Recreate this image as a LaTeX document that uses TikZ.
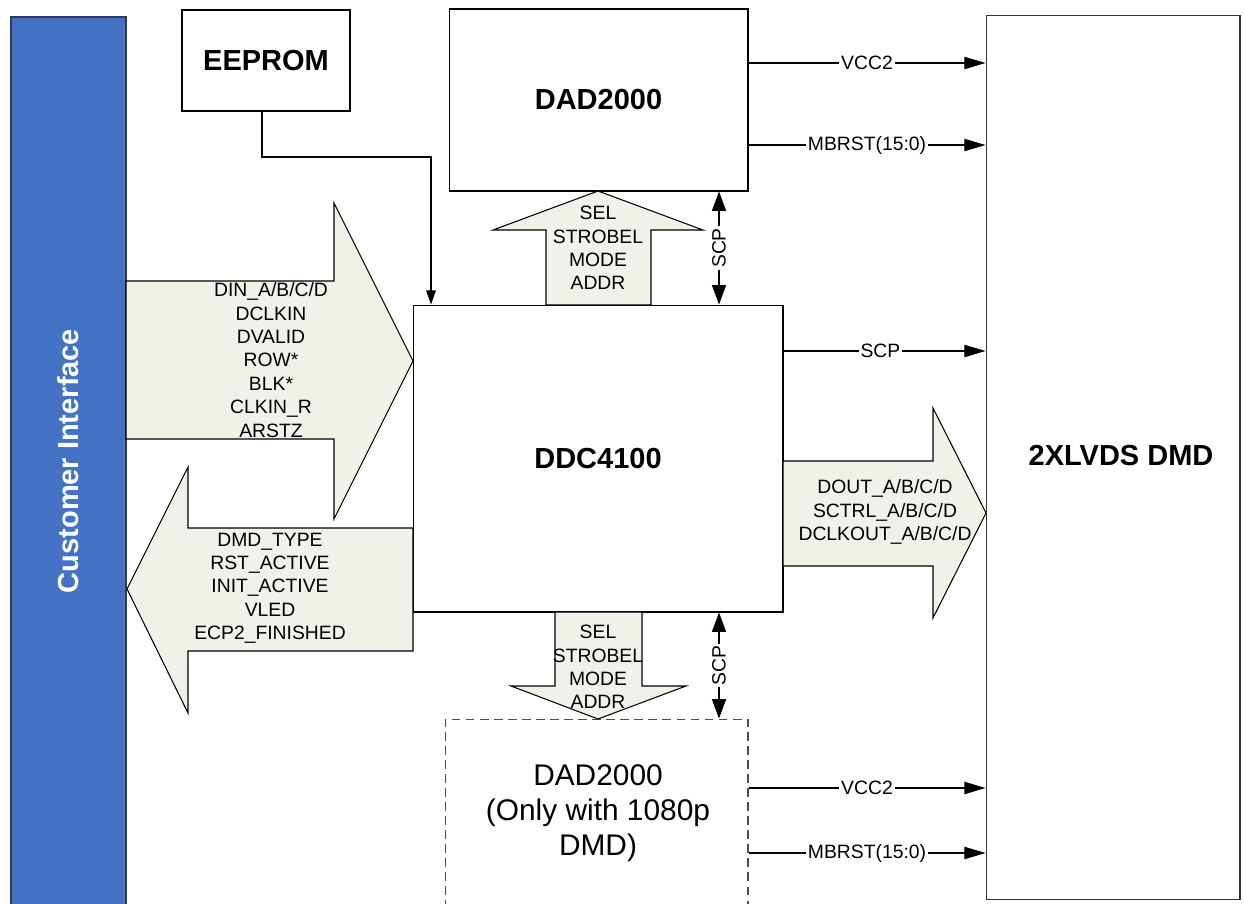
\documentclass[tikz,border=0pt]{standalone}
\usepackage{fontspec}
\setmainfont{Liberation Sans}
\usetikzlibrary{arrows.meta}
\definecolor{custblue}{RGB}{68,114,196}
\definecolor{custedge}{RGB}{45,60,95}
\definecolor{arrowfill}{RGB}{241,241,234}
\begin{document}
\begin{tikzpicture}[x=0.02cm,y=-0.02cm,
  box/.style={draw=black, line width=0.6pt, inner sep=0pt, fill=white},
  big/.style={font=\fontsize{16.5}{19}\selectfont\bfseries},
  small/.style={font=\fontsize{11}{13.3}\selectfont, align=center, inner sep=0pt},
  blk/.style={draw=black, line width=0.6pt, fill=arrowfill},
  sig/.style={draw, line width=0.6pt, -{Triangle[length=12pt,width=7pt]}},
  sigtwo/.style={draw, line width=0.6pt, {Triangle[length=11pt,width=8pt]}-{Triangle[length=11pt,width=8pt]}},
  lbl/.style={fill=white, inner sep=1pt, font=\fontsize{11}{13}\selectfont},
]
\useasboundingbox (0,0) rectangle (1244,903);

% blocks
\node[draw=custedge, line width=0.8pt, fill=custblue, minimum width=2.3cm, minimum height=17.8cm, inner sep=0pt] (cust) at (68.5,462) {};
\node[text=white, rotate=90, big] (custtxt) at (68.5,461) {Customer Interface};

\node[box, minimum width=3.36cm, minimum height=2.02cm, big] (eeprom) at (266,60.5) {EEPROM};
\node[box, minimum width=5.98cm, minimum height=3.64cm, big] (dadtop) at (598.5,100) {DAD2000};
\node[box, minimum width=7.4cm, minimum height=6.14cm, big] (ddc) at (598,458.5) {DDC4100};
\node[box, dashed, draw=black!70, dash pattern=on 5pt off 3pt, minimum width=6.06cm, minimum height=5.62cm] (dadbot) at (596.5,859.5) {};
\node[align=center, font=\fontsize{17}{20}\selectfont] (dadbottxt) at (598,813) {DAD2000\\(Only with 1080p\\DMD)};
\node[box, draw=black!80, minimum width=5.08cm, minimum height=17.7cm] (dmd) at (1113,457.5) {};
\node[big] (dmdtxt) at (1121,456) {2XLVDS DMD};

% block arrows
\draw[blk] (126,281) -- (334,281) -- (334,203) -- (413,361) -- (334,519) -- (334,439) -- (126,439) -- cycle;
\node[small] (intxt) at (271,360) {DIN\_A/B/C/D\\DCLKIN\\DVALID\\ROW*\\BLK*\\CLKIN\_R\\ARSTZ};

\draw[blk] (413,528) -- (188,528) -- (188,467) -- (127,589) -- (188,713) -- (188,651) -- (413,651) -- cycle;
\node[small] (outtxt) at (270,588) {DMD\_TYPE\\RST\_ACTIVE\\INIT\_ACTIVE\\VLED\\ECP2\_FINISHED};

\draw[blk] (783,461) -- (933,461) -- (933,408) -- (986,513) -- (933,618) -- (933,566) -- (783,566) -- cycle;
\node[small] (dmdsig) at (885,512) {DOUT\_A/B/C/D\\SCTRL\_A/B/C/D\\DCLKOUT\_A/B/C/D};

\draw[blk] (546,305) -- (546,230) -- (493,230) -- (598,191) -- (703,230) -- (651,230) -- (651,305) -- cycle;
\node[small] (toptxt) at (598,248) {SEL\\STROBEL\\MODE\\ADDR};

\draw[blk] (555,612) -- (555,686) -- (511,686) -- (598,719) -- (686,686) -- (642,686) -- (642,612) -- cycle;
\node[small] (bottxt) at (598,667) {SEL\\STROBEL\\MODE\\ADDR};

% EEPROM connector
\coordinate (bend) at (431,157);
\draw[line width=0.6pt, -{Triangle[length=8pt,width=5.5pt]}] (eeprom.south -| 262,0) |- (bend) -- (ddc.north -| bend);

% signal lines
\draw[sig] (dadtop.east |- 0,63) -- node[lbl, pos=0.5] {VCC2} (dmd.west |- 0,63);
\draw[sig] (dadtop.east |- 0,145) -- node[lbl, pos=0.5] {MBRST(15:0)} (dmd.west |- 0,145);
\draw[sig] (ddc.east |- 0,351) -- node[lbl, pos=0.48] {SCP} (dmd.west |- 0,351);
\draw[sig] (dadbot.east |- 0,788) -- node[lbl, pos=0.5] {VCC2} (dmd.west |- 0,788);
\draw[sig] (dadbot.east |- 0,853) -- node[lbl, pos=0.5] {MBRST(15:0)} (dmd.west |- 0,853);

\draw[sigtwo] (dadtop.south -| 719,0) -- node[lbl, rotate=90] {SCP} (ddc.north -| 719,0);
\draw[sigtwo] (ddc.south -| 719,0) -- node[lbl, rotate=90] {SCP} (dadbot.north -| 719,0);
\end{tikzpicture}
\end{document}
